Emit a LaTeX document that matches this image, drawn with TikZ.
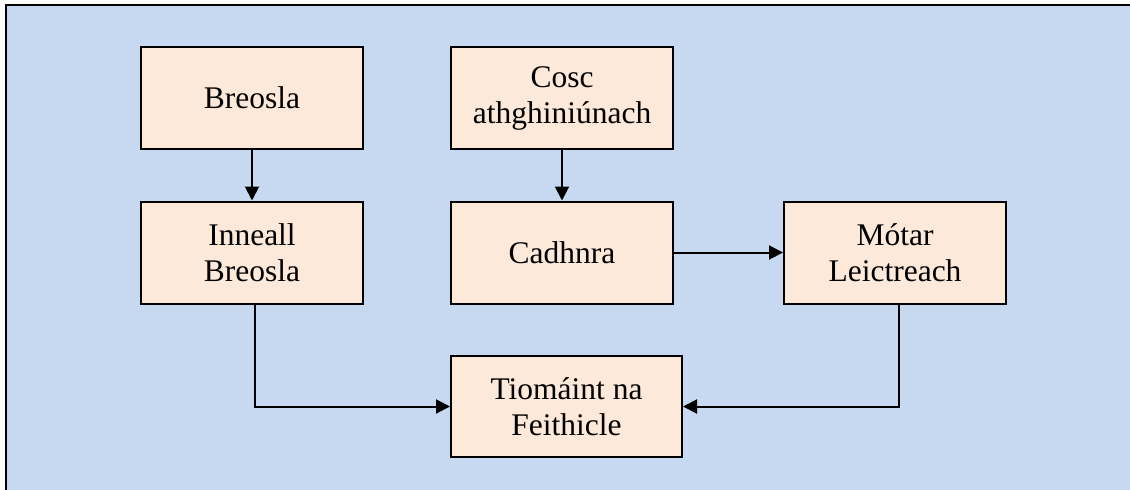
\documentclass[tikz,border=0pt]{standalone}
\usepackage{fontspec}
\setmainfont{Liberation Serif}
\usetikzlibrary{arrows.meta}
\definecolor{bgblue}{HTML}{C6D9F0}
\definecolor{boxfill}{HTML}{FDE9D9}
\begin{document}
\begin{tikzpicture}[x=1pt,y=-1pt,
  blk/.style={draw=black,line width=2pt,fill=boxfill,minimum width=222pt,minimum height=102pt,
    align=center,inner sep=0pt,font=\fontsize{31.5}{36}\selectfont},
  conn/.style={line width=2pt,-{Triangle[length=14pt,width=14pt]}}]
\useasboundingbox (0,0) rectangle (1130,490);
\draw[line width=2pt,fill=bgblue] (6,5) rectangle (1145,505);
\node[blk] (breosla) at (252,98) {Breosla};
\node[blk] (inneall) at (252,252.5) {Inneall\\Breosla};
\node[blk] (cosc) at (562,98) {Cosc\\athghiniúnach};
\node[blk] (cadhnra) at (562,252.5) {Cadhnra};
\node[blk] (motar) at (895,252.5) {Mótar\\Leictreach};
\node[blk,minimum width=231pt,minimum height=101pt] (tiom) at (566.5,406.5) {Tiomáint na\\Feithicle};
\draw[conn] (breosla.south) -- (inneall.north);
\draw[conn] (cosc.south) -- (cadhnra.north);
\draw[conn] (cadhnra.east) -- (motar.west);
\draw[conn] ([xshift=3pt]inneall.south) |- (tiom.west);
\draw[conn] ([xshift=4pt]motar.south) |- (tiom.east);
\end{tikzpicture}
\end{document}
